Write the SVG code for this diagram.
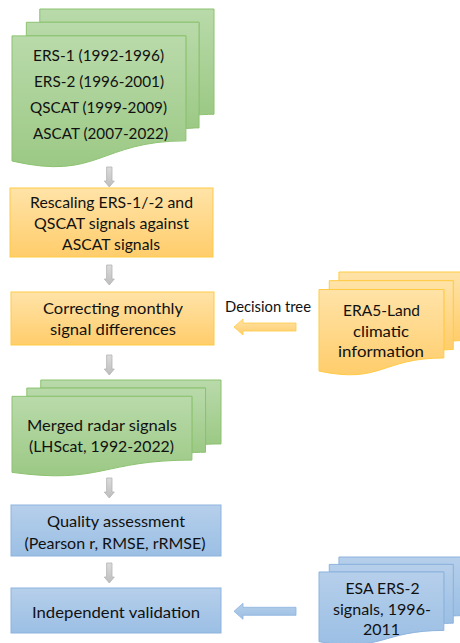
<svg xmlns="http://www.w3.org/2000/svg" width="460" height="643" viewBox="0 0 460 643">
<defs>
<linearGradient id="gG" x1="0" y1="0" x2="0" y2="1"><stop offset="0" stop-color="#b9daaa"/><stop offset="1" stop-color="#9cc985"/></linearGradient>
<linearGradient id="gO" x1="0" y1="0" x2="0" y2="1"><stop offset="0" stop-color="#ffe3a8"/><stop offset="1" stop-color="#ffcd6b"/></linearGradient>
<linearGradient id="gB" x1="0" y1="0" x2="0" y2="1"><stop offset="0" stop-color="#b6cfeb"/><stop offset="1" stop-color="#9bbfe4"/></linearGradient>
<linearGradient id="gA" x1="0" y1="0" x2="0" y2="1"><stop offset="0" stop-color="#dcdcdc"/><stop offset="1" stop-color="#bdbdbd"/></linearGradient>
</defs>
<style>
.g{fill:url(#gG);stroke:#8cc270;stroke-width:1}
.o{fill:url(#gO);stroke:#ffcb45;stroke-width:1}
.b{fill:url(#gB);stroke:#8db3de;stroke-width:1}
.a{fill:url(#gA);stroke:#b4b4b4;stroke-width:0.8}
.ao{fill:url(#gO);stroke:#ffcb45;stroke-width:0.8}
.ab{fill:url(#gB);stroke:#8db3de;stroke-width:0.8}
text{font-family:Lato,"Liberation Sans",sans-serif;font-size:16.2px;fill:#111;text-anchor:middle}
</style>

<g id="satellites">
<path class="g" d="M39.79,22.28 L39.79,9 L214,9 L214,114.28 C206.52,114.28 199.04,114.82 199.04,114.82 L199.04,22.28 Z"/>
<path class="g" d="M26.33,35.88 L26.33,22.28 L199.04,22.28 L199.04,127.88 C192.47,127.88 185.9,128.61 185.9,128.61 L185.9,35.88 Z"/>
<path class="g" d="M12,161.02 C98.95,181.21 98.95,140.83 185.9,140.83 L185.9,35.88 L12,35.88 Z"/>
<text x="98.5" y="61" textLength="131" lengthAdjust="spacingAndGlyphs">ERS-1 (1992-1996)</text>
<text x="99" y="87" textLength="130" lengthAdjust="spacingAndGlyphs">ERS-2 (1996-2001)</text>
<text x="98.5" y="113" textLength="137" lengthAdjust="spacingAndGlyphs">QSCAT (1999-2009)</text>
<text x="100.5" y="139" textLength="135" lengthAdjust="spacingAndGlyphs">ASCAT (2007-2022)</text>
</g>

<g id="rescaling">
<rect class="o" x="10" y="188" width="203" height="69"/>
<text x="111.5" y="208" textLength="163" lengthAdjust="spacingAndGlyphs">Rescaling ERS-1/-2 and</text>
<text x="111.5" y="229" textLength="155" lengthAdjust="spacingAndGlyphs">QSCAT signals against</text>
<text x="111" y="250" textLength="98" lengthAdjust="spacingAndGlyphs">ASCAT signals</text>
</g>

<g id="correcting">
<rect class="o" x="11" y="292" width="203" height="53"/>
<text x="113" y="313.5" textLength="140" lengthAdjust="spacingAndGlyphs">Correcting monthly</text>
<text x="113" y="334.5" textLength="126" lengthAdjust="spacingAndGlyphs">signal differences</text>
</g>

<g id="era5">
<path class="o" d="M338.95,280.66 L338.95,272 L464,272 L464,340.63 C458.63,340.63 453.26,340.99 453.26,340.99 L453.26,280.66 Z"/>
<path class="o" d="M329.28,289.52 L329.28,280.66 L453.26,280.66 L453.26,349.5 C448.55,349.5 443.83,349.98 443.83,349.98 L443.83,289.52 Z"/>
<path class="o" d="M319,371.1 C381.42,384.26 381.42,357.94 443.83,357.94 L443.83,289.52 L319,289.52 Z"/>
<text x="381.5" y="316" textLength="77" lengthAdjust="spacingAndGlyphs">ERA5-Land</text>
<text x="381" y="336.5" textLength="56" lengthAdjust="spacingAndGlyphs">climatic</text>
<text x="381" y="357" textLength="86" lengthAdjust="spacingAndGlyphs">information</text>
</g>

<g id="merged">
<path class="g" d="M40.76,388.07 L40.76,380 L221,380 L221,443.96 C213.26,443.96 205.52,444.3 205.52,444.3 L205.52,388.07 Z"/>
<path class="g" d="M26.82,396.33 L26.82,388.07 L205.52,388.07 L205.52,452.23 C198.73,452.23 191.92,452.68 191.92,452.68 L191.92,396.33 Z"/>
<path class="g" d="M12,472.36 C101.97,484.63 101.97,460.1 191.92,460.1 L191.92,396.33 L12,396.33 Z"/>
<text x="102" y="430.5" textLength="150" lengthAdjust="spacingAndGlyphs">Merged radar signals</text>
<text x="101.5" y="452" textLength="145" lengthAdjust="spacingAndGlyphs">(LHScat, 1992-2022)</text>
</g>

<g id="quality">
<rect class="b" x="11" y="505" width="210" height="51"/>
<text x="116" y="527" textLength="138" lengthAdjust="spacingAndGlyphs">Quality assessment</text>
<text x="115" y="549" textLength="181" lengthAdjust="spacingAndGlyphs">(Pearson r, RMSE, rRMSE)</text>
</g>

<g id="validation">
<rect class="b" x="11" y="588" width="210" height="45"/>
<text x="116" y="618" textLength="168" lengthAdjust="spacingAndGlyphs">Independent validation</text>
</g>

<g id="esa">
<path class="b" d="M338.95,564.39 L338.95,557 L464,557 L464,615.63 C458.63,615.63 453.26,615.94 453.26,615.94 L453.26,564.39 Z"/>
<path class="b" d="M329.28,571.97 L329.28,564.39 L453.26,564.39 L453.26,623.21 C448.55,623.21 443.83,623.62 443.83,623.62 L443.83,571.97 Z"/>
<path class="b" d="M319,641.67 C381.42,652.91 381.42,630.42 443.83,630.42 L443.83,571.97 L319,571.97 Z"/>
<text x="382.5" y="594" textLength="74" lengthAdjust="spacingAndGlyphs">ESA ERS-2</text>
<text x="382" y="614.5" textLength="98" lengthAdjust="spacingAndGlyphs">signals, 1996-</text>
<text x="381.5" y="635" textLength="37" lengthAdjust="spacingAndGlyphs">2011</text>
</g>

<g id="connectors">
<polygon class="a" points="106.6,167 112,167 112,181 114.3,181 109.3,187 104.3,181 106.6,181"/>
<polygon class="a" points="106.6,265 112,265 112,279 114.3,279 109.3,285 104.3,279 106.6,279"/>
<polygon class="a" points="106.6,355 112,355 112,369 114.3,369 109.3,375 104.3,369 106.6,369"/>
<polygon class="a" points="106.6,478 112,478 112,492 114.3,492 109.3,498 104.3,492 106.6,492"/>
<polygon class="a" points="106.6,563 112,563 112,577 114.3,577 109.3,583 104.3,577 106.6,577"/>
<polygon class="ao" points="296,323 243,323 243,319 234,327 243,335 243,331 296,331"/>
<text x="268" y="311.5" textLength="86" lengthAdjust="spacingAndGlyphs">Decision tree</text>
<polygon class="ab" points="296,607.3 243,607.3 243,603.3 234,611.3 243,619.3 243,615.3 296,615.3"/>
</g>
</svg>
